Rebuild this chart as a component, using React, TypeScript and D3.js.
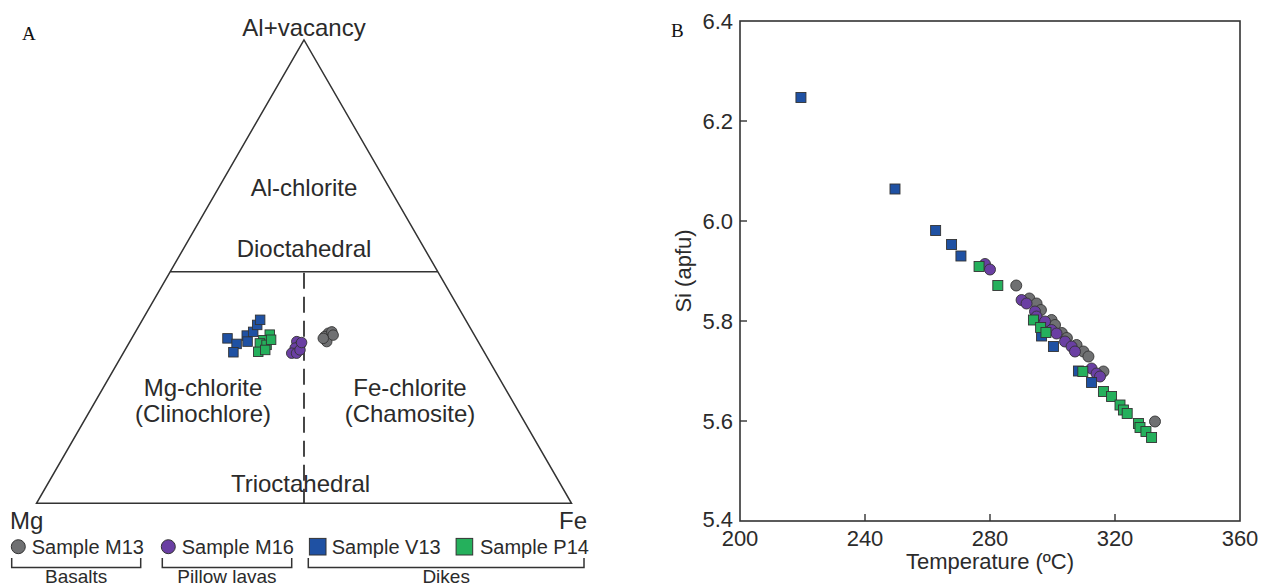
import React from "react";
import * as d3 from "d3";

// ---------- Data ----------
const seriesNames = ["Sample M13", "Sample M16", "Sample V13", "Sample P14"];
const seriesColors = ["#6f7072", "#6a3fa3", "#1f51a3", "#25b05c"];
const seriesShapes = ["circle", "circle", "square", "square"];
const groupNames = ["Basalts", "Pillow lavas", "Dikes"];

// Ternary (Mg, Al+vacancy, Fe) fractions
const ternM13 = [
  [0.271, 0.367, 0.362], [0.281, 0.36, 0.359], [0.283, 0.349, 0.368],
  [0.263, 0.37, 0.367], [0.264, 0.363, 0.373], [0.286, 0.356, 0.358],
];
const ternM16 = [
  [0.339, 0.349, 0.312], [0.336, 0.342, 0.322], [0.349, 0.335, 0.316],
  [0.361, 0.324, 0.315], [0.352, 0.324, 0.324], [0.342, 0.331, 0.327],
  [0.331, 0.347, 0.322],
];
const ternV13 = [
  [0.465, 0.356, 0.179], [0.454, 0.344, 0.202], [0.469, 0.326, 0.205],
  [0.426, 0.362, 0.212], [0.431, 0.349, 0.22], [0.41, 0.37, 0.22],
  [0.395, 0.385, 0.22], [0.384, 0.396, 0.22],
];
const ternP14 = [
  [0.382, 0.364, 0.254], [0.4, 0.352, 0.248], [0.41, 0.345, 0.245],
  [0.399, 0.342, 0.259], [0.422, 0.327, 0.251], [0.407, 0.331, 0.262],
  [0.385, 0.353, 0.262],
];

// Temperature (°C) vs Si (apfu)
const tsM13 = [
  [288.4, 5.871], [292.6, 5.845], [294.9, 5.835], [296.3, 5.822], [299.7, 5.802],
  [300.8, 5.792], [303.0, 5.776], [304.6, 5.766], [307.7, 5.752], [309.9, 5.739],
  [311.5, 5.729], [316.3, 5.699], [332.8, 5.599],
];
const tsM16 = [
  [278.4, 5.914], [280.0, 5.903], [290.1, 5.842], [291.7, 5.835], [294.4, 5.819],
  [294.9, 5.809], [297.6, 5.799], [299.7, 5.782], [301.3, 5.775], [304.0, 5.759],
  [306.1, 5.749], [307.2, 5.739], [312.5, 5.705], [314.1, 5.695], [315.2, 5.689],
];
const tsV13 = [
  [219.5, 6.247], [249.6, 6.064], [262.6, 5.981], [267.7, 5.953], [270.7, 5.93],
  [296.5, 5.77], [300.3, 5.749], [308.3, 5.70], [312.5, 5.677],
];
const tsP14 = [
  [276.5, 5.909], [282.5, 5.871], [293.9, 5.802], [296.2, 5.787], [297.9, 5.777],
  [309.7, 5.699], [316.3, 5.659], [318.9, 5.649], [321.6, 5.632], [322.7, 5.622],
  [323.9, 5.615], [327.5, 5.595], [328.0, 5.587], [329.9, 5.579], [331.7, 5.567],
];

const xTicks = [200, 240, 280, 320, 360];
const yTicks = [5.4, 5.6, 5.8, 6.0, 6.2, 6.4];

const FONT = "'Liberation Sans', Arial, Helvetica, sans-serif";
const TXT = "#2b2b2b";
const STROKE = "#333";

function Marker({ shape, cx, cy, color, size }: any) {
  if (shape === "circle")
    return <circle cx={cx} cy={cy} r={size / 2 + 0.5} fill={color} stroke="#333" strokeWidth={0.9} />;
  return (
    <rect x={cx - size / 2} y={cy - size / 2} width={size} height={size} fill={color} stroke="#333" strokeWidth={0.9} />
  );
}

export default function App() {
  // ---- Ternary geometry ----
  const baseY = 503.3;
  const leftX = 36.5;
  const side = 535;
  const h = (side * Math.sqrt(3)) / 2;
  const tern = (mg: number, al: number, fe: number) => {
    const s = mg + al + fe;
    const a = al / s;
    const f = fe / s;
    return [leftX + (f + a / 2) * side, baseY - a * h];
  };
  const apex = tern(0, 1, 0);
  const pMg = tern(1, 0, 0);
  const pFe = tern(0, 0, 1);
  const midL = tern(0.5, 0.5, 0);
  const midR = tern(0, 0.5, 0.5);
  const midTop = tern(0.25, 0.5, 0.25);
  const midBase = tern(0.5, 0, 0.5);

  const ternSets = [ternM13, ternM16, ternV13, ternP14];
  const tsSets = [tsM13, tsM16, tsV13, tsP14];

  // ---- Scatter geometry ----
  const x = d3.scaleLinear().domain([200, 360]).range([740, 1240]);
  const y = d3.scaleLinear().domain([5.4, 6.4]).range([521, 21]);

  const legendItems = [
    { shape: "circle", cx: 18.3, tx: 31.7 },
    { shape: "circle", cx: 168.3, tx: 181.7 },
    { shape: "square", cx: 317.7, tx: 331.7 },
    { shape: "square", cx: 464.4, tx: 480 },
  ];
  const brackets = [
    [11.7, 140.7],
    [162.3, 291.7],
    [308.3, 584],
  ];

  return (
    <svg
      width={1261}
      height={585}
      style={{ position: "absolute", left: 0, top: 0, display: "block", background: "#fff" }}
      fontFamily={FONT}
    >
      {/* Panel labels */}
      <text x={22} y={40} fontFamily="'Liberation Serif', 'Times New Roman', serif" fontSize={19} fill="#111">A</text>
      <text x={671} y={37} fontFamily="'Liberation Serif', 'Times New Roman', serif" fontSize={19} fill="#111">B</text>

      {/* ===== Ternary ===== */}
      <path
        d={`M${apex[0]},${apex[1]}L${pMg[0]},${pMg[1]}L${pFe[0]},${pFe[1]}Z`}
        fill="none"
        stroke={STROKE}
        strokeWidth={1.5}
        strokeLinejoin="miter"
      />
      <line x1={midL[0]} y1={midL[1]} x2={midR[0]} y2={midR[1]} stroke={STROKE} strokeWidth={1.5} />
      <line
        x1={midTop[0]}
        y1={midTop[1] + 1}
        x2={midBase[0]}
        y2={midBase[1]}
        stroke={STROKE}
        strokeWidth={1.8}
        strokeDasharray="16,8"
      />
      <g fontSize={24} fill={TXT} textAnchor="middle">
        <text x={apex[0]} y={36}>Al+vacancy</text>
        <text x={304} y={196}>Al-chlorite</text>
        <text x={304} y={257}>Dioctahedral</text>
        <text x={203} y={396}>Mg-chlorite</text>
        <text x={203} y={422}>(Clinochlore)</text>
        <text x={410} y={396}>Fe-chlorite</text>
        <text x={410} y={422}>(Chamosite)</text>
        <text x={300.5} y={492}>Trioctahedral</text>
        <text x={10} y={529} textAnchor="start">Mg</text>
        <text x={587} y={529} textAnchor="end">Fe</text>
      </g>
      {ternSets.map((set, si) => (
        <g key={"t" + si}>
          {set.map((d, i) => {
            const [px, py] = tern(d[0], d[1], d[2]);
            return <Marker key={i} shape={seriesShapes[si]} cx={px} cy={py} color={seriesColors[si]} size={9.5} />;
          })}
        </g>
      ))}

      {/* Legend */}
      {legendItems.map((it, i) => (
        <g key={"lg" + i}>
          {it.shape === "circle" ? (
            <circle cx={it.cx} cy={546.7} r={7} fill={seriesColors[i]} stroke="#333" strokeWidth={1} />
          ) : (
            <rect x={it.cx - 8.3} y={538.4} width={16.6} height={16.6} fill={seriesColors[i]} stroke="#333" strokeWidth={1} />
          )}
          <text x={it.tx} y={554} fontSize={20} fill={TXT}>{seriesNames[i]}</text>
        </g>
      ))}
      {brackets.map((b, i) => (
        <g key={"br" + i}>
          <path d={`M${b[0]},558V567.5H${b[1]}V558`} fill="none" stroke={STROKE} strokeWidth={1.5} />
          <text x={(b[0] + b[1]) / 2} y={582.5} fontSize={19} fill={TXT} textAnchor="middle">{groupNames[i]}</text>
        </g>
      ))}

      {/* ===== Scatter ===== */}
      <rect x={740} y={21} width={500} height={500} fill="none" stroke={STROKE} strokeWidth={1.6} />
      {xTicks.map((t) => (
        <g key={"xt" + t}>
          {t > 200 && t < 360 && <line x1={x(t)} x2={x(t)} y1={521} y2={514} stroke={STROKE} strokeWidth={1.4} />}
          <text x={x(t)} y={546} fontSize={22} fill={TXT} textAnchor="middle">{t}</text>
        </g>
      ))}
      {yTicks.map((t) => (
        <g key={"yt" + t}>
          {t > 5.4 && t < 6.4 && <line x1={740} x2={747} y1={y(t)} y2={y(t)} stroke={STROKE} strokeWidth={1.4} />}
          <text x={733} y={y(t) + (t === 5.4 ? 6 : 8)} fontSize={22} fill={TXT} textAnchor="end">{t.toFixed(1)}</text>
        </g>
      ))}
      <text x={990} y={569} fontSize={22} fill={TXT} textAnchor="middle">Temperature (ºC)</text>
      <text transform={`translate(691,271) rotate(-90)`} fontSize={22} fill={TXT} textAnchor="middle">Si (apfu)</text>
      {tsSets.map((set, si) => (
        <g key={"s" + si}>
          {set.map((d, i) => (
            <Marker key={i} shape={seriesShapes[si]} cx={x(d[0])} cy={y(d[1])} color={seriesColors[si]} size={10} />
          ))}
        </g>
      ))}
    </svg>
  );
}
